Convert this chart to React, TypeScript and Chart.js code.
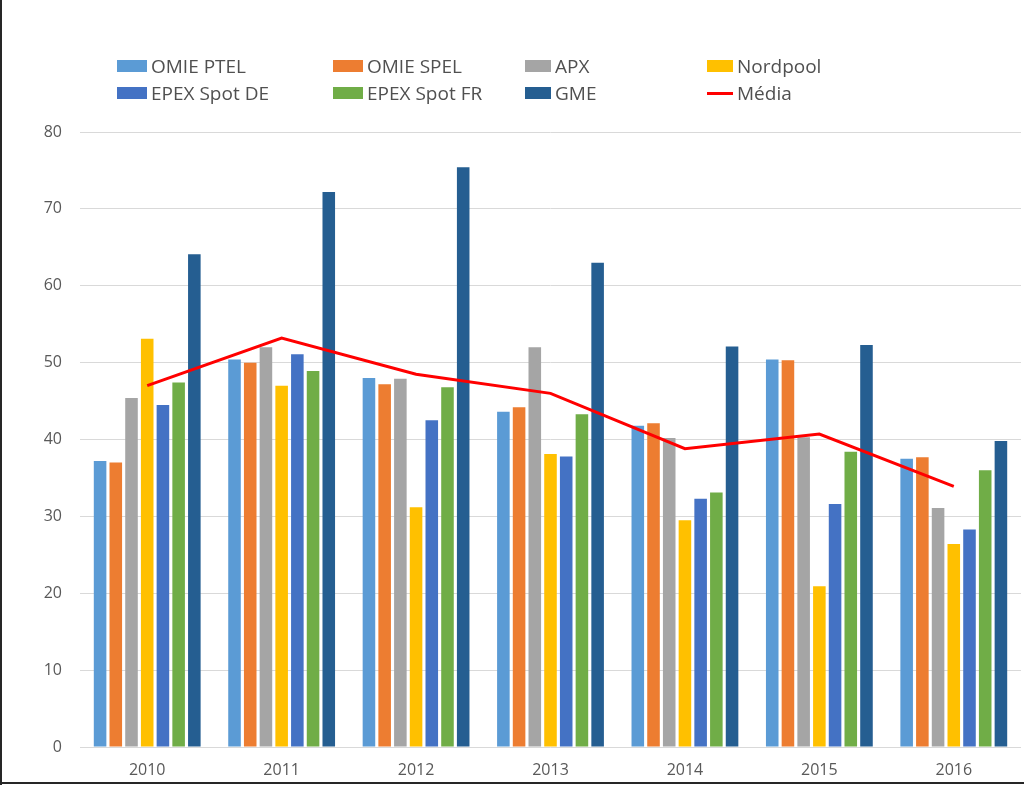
import React, { useEffect, useRef } from "react";
import { Chart, registerables } from "chart.js";

Chart.register(...registerables);

const years = ["2010", "2011", "2012", "2013", "2014", "2015", "2016"];
const omiePtel = [37.2, 50.4, 48.0, 43.6, 41.8, 50.4, 37.5];
const omieSpel = [37.0, 50.0, 47.2, 44.2, 42.1, 50.3, 37.7];
const apx = [45.4, 52.0, 47.9, 52.0, 40.2, 40.3, 31.1];
const nordpool = [53.1, 47.0, 31.2, 38.1, 29.5, 20.9, 26.4];
const epexDe = [44.5, 51.1, 42.5, 37.8, 32.3, 31.6, 28.3];
const epexFr = [47.4, 48.9, 46.8, 43.3, 33.1, 38.4, 36.0];
const gme = [64.1, 72.2, 75.4, 63.0, 52.1, 52.3, 39.8];
const media = [47.0, 53.2, 48.5, 46.0, 38.8, 40.7, 33.9];

const yMin = 0;
const yMax = 80;
const yStep = 10;

const barSeries = [
  { label: "OMIE PTEL", data: omiePtel, color: "#5B9BD5" },
  { label: "OMIE SPEL", data: omieSpel, color: "#ED7D31" },
  { label: "APX", data: apx, color: "#A5A5A5" },
  { label: "Nordpool", data: nordpool, color: "#FFC000" },
  { label: "EPEX Spot DE", data: epexDe, color: "#4472C4" },
  { label: "EPEX Spot FR", data: epexFr, color: "#70AD47" },
  { label: "GME", data: gme, color: "#255E91" },
];
const lineSeries = { label: "Média", data: media, color: "#FF0000" };

const legendOrder = [
  ...barSeries.map((s) => ({ ...s, kind: "box" })),
  { ...lineSeries, kind: "line" },
];
const colX = [117, 333, 525, 707];
const colBoxW = [30, 30, 26, 26];
const rowY = [66, 93];

const FONT = "'Open Sans', 'Noto Sans', sans-serif";
const TEXT = "#595959";

export default function App() {
  const canvasRef = useRef<HTMLCanvasElement | null>(null);

  useEffect(() => {
    if (!canvasRef.current) return;
    const chart = new Chart(canvasRef.current, {
      type: "bar",
      data: {
        labels: years,
        datasets: [
          {
            type: "line",
            label: lineSeries.label,
            data: lineSeries.data,
            borderColor: lineSeries.color,
            backgroundColor: lineSeries.color,
            borderWidth: 3,
            pointRadius: 0,
            tension: 0,
            order: 0,
          } as any,
          ...barSeries.map((s) => ({
            type: "bar",
            label: s.label,
            data: s.data,
            backgroundColor: s.color,
            borderWidth: 0,
            categoryPercentage: 0.818,
            barPercentage: 0.8,
            order: 1,
          })),
        ],
      },
      options: {
        responsive: true,
        maintainAspectRatio: false,
        animation: false,
        layout: { padding: { top: 132, right: 3, bottom: 0, left: 0 } },
        plugins: {
          legend: { display: false },
          tooltip: { enabled: false },
          title: { display: false },
        },
        scales: {
          x: {
            grid: { display: false, drawTicks: false },
            border: { display: false },
            ticks: {
              color: TEXT,
              font: { family: FONT, size: 16 },
              padding: 14,
              maxRotation: 0,
            },
            afterFit: (scale: any) => {
              scale.height = 38;
            },
          },
          y: {
            min: yMin,
            max: yMax,
            grid: { color: "#D9D9D9", lineWidth: 1, drawTicks: false },
            border: { display: false },
            ticks: {
              stepSize: yStep,
              color: TEXT,
              font: { family: FONT, size: 16 },
              padding: 18,
            },
            afterFit: (scale: any) => {
              scale.width = 80;
            },
          },
        },
      } as any,
    });
    return () => chart.destroy();
  }, []);

  return (
    <div
      style={{
        position: "absolute",
        left: 0,
        top: 0,
        width: 1024,
        height: 785,
        background: "#fff",
        overflow: "hidden",
      }}
    >
      <canvas ref={canvasRef} />
      {legendOrder.map((item, i) => {
        const col = i % 4;
        const row = Math.floor(i / 4);
        const bw = colBoxW[col];
        return (
          <div
            key={item.label}
            style={{
              position: "absolute",
              left: colX[col],
              top: rowY[row] - 13,
              height: 26,
              display: "flex",
              alignItems: "center",
              fontFamily: FONT,
              fontSize: 19,
              color: "#505050",
              whiteSpace: "nowrap",
            }}
          >
            <span
              style={{
                display: "inline-block",
                width: bw,
                height: item.kind === "line" ? 3 : 12,
                background: item.color,
                marginRight: 4,
              }}
            />
            <span>{item.label}</span>
          </div>
        );
      })}
      <div style={{ position: "absolute", left: 0, top: 0, width: 2, height: 785, background: "#262626" }} />
      <div style={{ position: "absolute", left: 0, top: 782, width: 1024, height: 2, background: "#262626" }} />
    </div>
  );
}
